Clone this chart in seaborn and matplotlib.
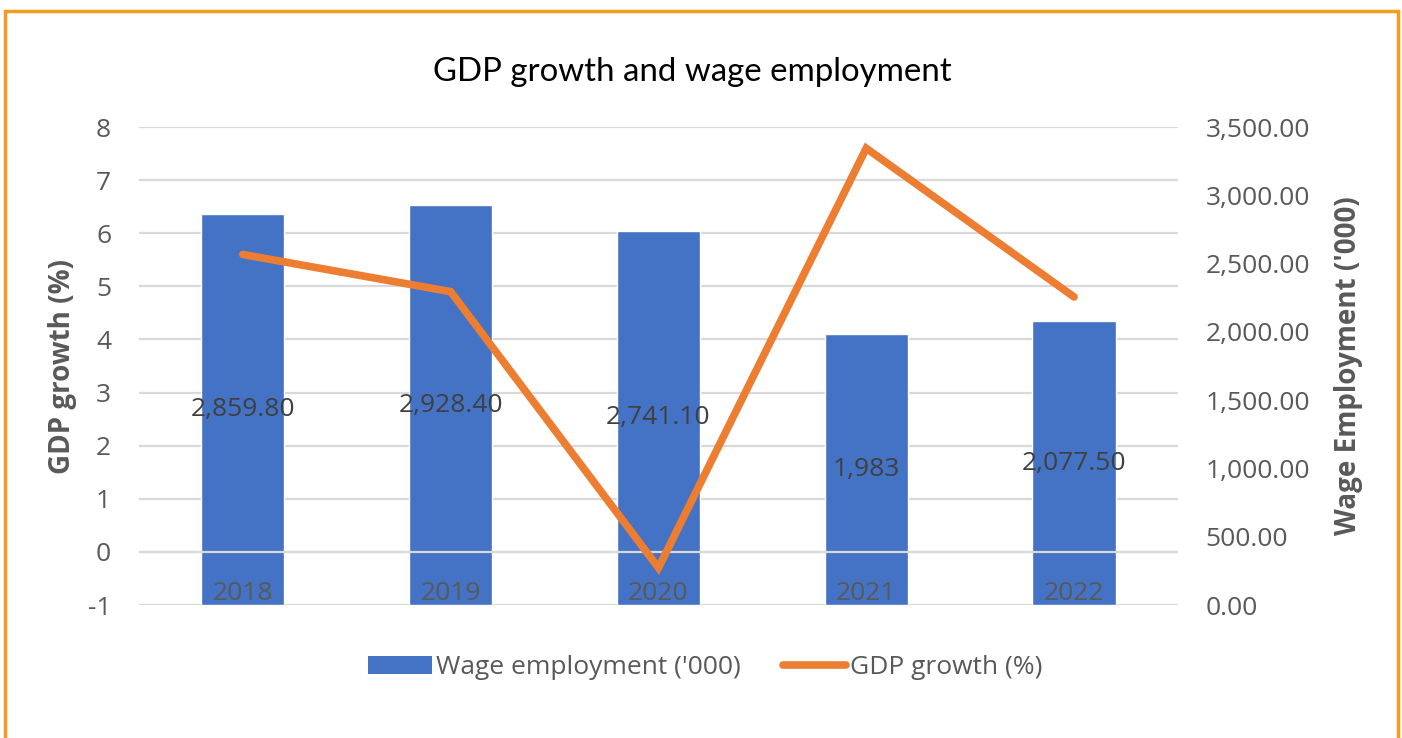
import matplotlib
matplotlib.use("Agg")
import matplotlib.pyplot as plt
import seaborn as sns
import numpy as np
import pandas as pd
from matplotlib.patches import Rectangle, Patch
from matplotlib.lines import Line2D
from matplotlib.ticker import FuncFormatter

years = ["2018", "2019", "2020", "2021", "2022"]
wage_employment = [2859.8, 2928.4, 2741.1, 1983.0, 2077.5]
wage_labels = ["2,859.80", "2,928.40", "2,741.10", "1,983", "2,077.50"]
gdp_growth = [5.6, 4.9, -0.3, 7.6, 4.8]
gdp_ticks = [-1, 0, 1, 2, 3, 4, 5, 6, 7, 8]
wage_ticks = [0, 500, 1000, 1500, 2000, 2500, 3000, 3500]

BLUE = "#4472C4"
ORANGE = "#ED7D31"
GREY = "#595959"
GRID = "#D9D9D9"
FONT = ["Open Sans", "DejaVu Sans"]

sns.set_theme(style="white")
plt.rcParams["font.family"] = FONT
plt.rcParams["axes.unicode_minus"] = False

df = pd.DataFrame({"year": years, "wage": wage_employment, "gdp": gdp_growth})

fig = plt.figure(figsize=(14.02, 7.38), dpi=100)
ax_grid = fig.add_axes([0.0991, 0.1802, 0.7411, 0.6477])
ax_bar = ax_grid.twinx()
ax_line = ax_grid.twinx()

# grid / left axis
ax_grid.set_ylim(gdp_ticks[0], gdp_ticks[-1])
ax_grid.set_yticks(gdp_ticks)
ax_grid.yaxis.grid(True, color=GRID, lw=1.6)
ax_grid.xaxis.grid(False)
ax_grid.tick_params(axis="y", length=0, pad=20, labelsize=19, labelcolor=GREY)
ax_grid.set_ylabel("GDP growth (%)", fontsize=20, fontweight="bold", color=GREY, labelpad=8)
ax_grid.yaxis.tick_left()
ax_grid.yaxis.set_label_position("left")

# bars
sns.barplot(data=df, x="year", y="wage", ax=ax_bar, color=BLUE, saturation=1,
            width=0.4, order=years)
ax_bar.set_ylim(wage_ticks[0], wage_ticks[-1])
ax_bar.set_yticks(wage_ticks)
ax_bar.yaxis.set_major_formatter(FuncFormatter(lambda v, p: f"{v:,.2f}"))
ax_bar.yaxis.tick_right()
ax_bar.yaxis.set_label_position("right")
ax_bar.tick_params(axis="y", length=0, pad=20, labelsize=19, labelcolor=GREY)
ax_bar.set_ylabel("Wage Employment ('000)", fontsize=20, fontweight="bold", color=GREY,
                  labelpad=17)
ax_bar.set_xlabel("")
ax_bar.bar_label(ax_bar.containers[0], labels=wage_labels, label_type="center",
                 fontsize=19, color="#404040")

# line + zero axis line
ax_line.set_ylim(gdp_ticks[0], gdp_ticks[-1])
ax_line.axhline(0, color=GRID, lw=1.6, zorder=1)
sns.lineplot(x=np.arange(len(years)), y=gdp_growth, ax=ax_line, color=ORANGE, lw=5.5,
             solid_capstyle="round", solid_joinstyle="miter", zorder=3)
ax_line.set_yticks([])
ax_line.set_xlim(-0.5, len(years) - 0.5)
ax_bar.set_xlim(-0.5, len(years) - 0.5)
ax_grid.set_xlim(-0.5, len(years) - 0.5)
ax_line.xaxis.set_visible(True)
ax_line.set_xticks(np.arange(len(years)))
ax_line.set_xticklabels(years)
ax_line.tick_params(axis="x", length=0, pad=-17, labelsize=19, labelcolor=GREY,
                    bottom=True, labelbottom=True)
ax_grid.tick_params(axis="x", labelbottom=False, length=0)
ax_bar.tick_params(axis="x", labelbottom=False, length=0)

for a in (ax_grid, ax_bar, ax_line):
    for s in a.spines.values():
        s.set_visible(False)
ax_bar.patch.set_visible(False)
ax_line.patch.set_visible(False)

fig.text(0.4935, 0.902, "GDP growth and wage employment", ha="center", va="center",
         fontsize=23.8, color="black", family=["Lato", "DejaVu Sans"])

handles = [Patch(facecolor=BLUE, edgecolor="none"),
           Line2D([0], [0], color=ORANGE, lw=5.5, solid_capstyle="round")]
fig.legend(handles, ["Wage employment ('000)", "GDP growth (%)"], loc="center",
           bbox_to_anchor=(0.503, 0.095), ncol=2, frameon=False, fontsize=19,
           labelcolor=GREY, handlelength=2.4, handletextpad=0.15, columnspacing=1.6)

fig.patches.append(Rectangle((0.0036, -0.05), 0.9936, 1.035, transform=fig.transFigure,
                             fill=False, edgecolor="#F39C1E", lw=2.5, zorder=10))

fig.savefig("out.png", dpi=100)
